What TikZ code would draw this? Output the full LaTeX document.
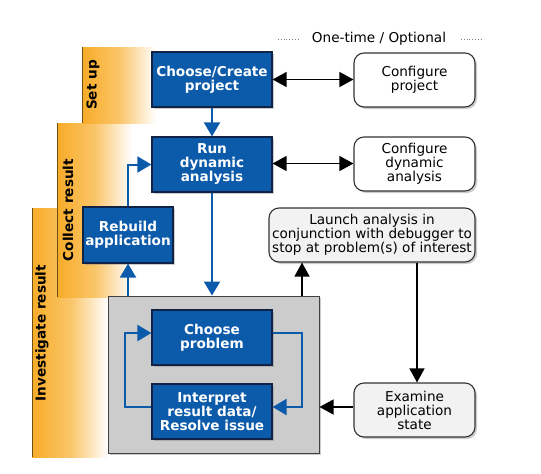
\documentclass[tikz,border=0pt]{standalone}
\usepackage{fontspec}
\setmainfont{DejaVu Sans}
\usetikzlibrary{arrows.meta,shadows,calc}
\definecolor{boxblue}{RGB}{12,90,170}
\definecolor{boxedge}{RGB}{15,35,70}
\definecolor{bandorange}{RGB}{248,172,40}
\definecolor{bandline}{RGB}{110,80,20}
\definecolor{greyfill}{RGB}{204,204,204}
\definecolor{lightfill}{RGB}{242,242,242}
\tikzset{
  bluebox/.style={rectangle, fill=boxblue, draw=boxedge, line width=1.2pt, text=white,
    font=\fontsize{13.6}{14}\selectfont\bfseries, align=center, inner sep=0pt,
    drop shadow={shadow xshift=2pt, shadow yshift=-2pt, opacity=0.4}},
  roundbox/.style={rectangle, rounded corners=10pt, fill=white, draw=black!80, line width=1.1pt,
    font=\fontsize{13.6}{14}\selectfont, align=center, inner sep=0pt,
    drop shadow={shadow xshift=2pt, shadow yshift=-2pt, opacity=0.4}},
  bandlabel/.style={rotate=90, font=\fontsize{13.6}{14}\selectfont\bfseries, text=black},
  bluearrow/.style={draw=boxblue, line width=2pt, -{Triangle[length=14pt,width=16pt]}},
  blackarrow/.style={draw=black, line width=1.3pt, -{Triangle[length=14pt,width=15pt]}},
  dblarrow/.style={draw=black, line width=1.3pt, {Triangle[length=14pt,width=15pt]}-{Triangle[length=14pt,width=15pt]}},
  band/.style={left color=bandorange, right color=white, middle color=bandorange!70!white},
  bandedge/.style={draw=bandline, line width=1pt},
}
\begin{document}
\begin{tikzpicture}[x=1pt,y=-1pt]
\useasboundingbox (0,0) rectangle (541,474);
% bands
\shade[band] (32,208) rectangle (108,457);
\draw[bandedge] (32,208) -- (32,457);
\shade[band] (57,123) rectangle (132,297);
\draw[bandedge] (57,123) -- (57,297);
\shade[band] (82,47) rectangle (156,123);
\draw[bandedge] (82,47) -- (82,123);
\node[bandlabel] (lsetup) at (93,85) {Set up};
\node[bandlabel] (lcollect) at (68,210) {Collect result};
\node[bandlabel] (linvest) at (42,333) {Investigate result};
% header
\node[font=\fontsize{13.6}{14}\selectfont] (hdr) at (379,39) {One-time / Optional};
\coordinate (d1a) at (278,39); \coordinate (d1b) at (300,39);
\coordinate (d2a) at (461,39); \coordinate (d2b) at (483,39);
\draw[gray, dotted, line width=0.8pt] (d1a) -- (d1b);
\draw[gray, dotted, line width=0.8pt] (d2a) -- (d2b);
% grey box
\node[rectangle, fill=greyfill, draw=black!75, line width=1pt, minimum width=211pt, minimum height=157pt,
  drop shadow={shadow xshift=2pt, shadow yshift=-2pt, opacity=0.4}] (grey) at (213.5,374.5) {};
% blue boxes
\node[bluebox, minimum width=120pt, minimum height=55pt] (create) at (212,79.5) {Choose/Create\\project};
\node[bluebox, minimum width=120pt, minimum height=55pt] (run) at (212,164.5) {Run\\dynamic\\analysis};
\node[bluebox, minimum width=90pt, minimum height=56pt] (rebuild) at (128,235) {Rebuild\\application};
\node[bluebox, minimum width=120pt, minimum height=55pt] (choose) at (212,337.5) {Choose\\problem};
\node[bluebox, minimum width=120pt, minimum height=55pt] (interp) at (212,411.5) {Interpret\\result data/\\Resolve issue};
% rounded boxes
\node[roundbox, minimum width=121pt, minimum height=54pt] (cfgproj) at (414.5,80) {Configure\\project};
\node[roundbox, minimum width=121pt, minimum height=54pt] (cfgdyn) at (414.5,164) {Configure\\dynamic\\analysis};
\node[roundbox, fill=lightfill, minimum width=206pt, minimum height=54pt] (launch) at (372,235) {Launch analysis in\\conjunction with debugger to\\stop at problem(s) of interest};
\node[roundbox, fill=lightfill, minimum width=121pt, minimum height=54pt] (examine) at (414.5,410) {Examine\\application\\state};
% connectors
\draw[bluearrow] (create) -- (run);
\draw[bluearrow] (run.south) -- (run.south |- grey.north);
\draw[bluearrow] (grey.north -| rebuild) -- (rebuild.south);
\draw[bluearrow] (rebuild.north) |- (run.west);
\coordinate (lt) at (302,296);
\draw[blackarrow] (grey.north -| lt) -- (launch.south -| lt);
\coordinate (ld) at (417,262);
\draw[blackarrow] (launch.south -| ld) -- (examine.north -| ld);
\draw[blackarrow] ([yshift=3pt]examine.west) -- ([yshift=3pt]examine.west -| grey.east);
\draw[dblarrow] (create.east) -- (create.east -| cfgproj.west);
\draw[dblarrow] ([yshift=1pt]run.east) -- ([yshift=1pt]run.east -| cfgdyn.west);
\coordinate (loopL) at (125,370);
\coordinate (loopR) at (302,370);
\draw[bluearrow] ([yshift=4.5pt]interp.west) -| (loopL) |- ([yshift=4.5pt]choose.west);
\draw[bluearrow] ([yshift=4.5pt]choose.east) -| (loopR) |- ([yshift=4.5pt]interp.east);
\end{tikzpicture}
\end{document}
